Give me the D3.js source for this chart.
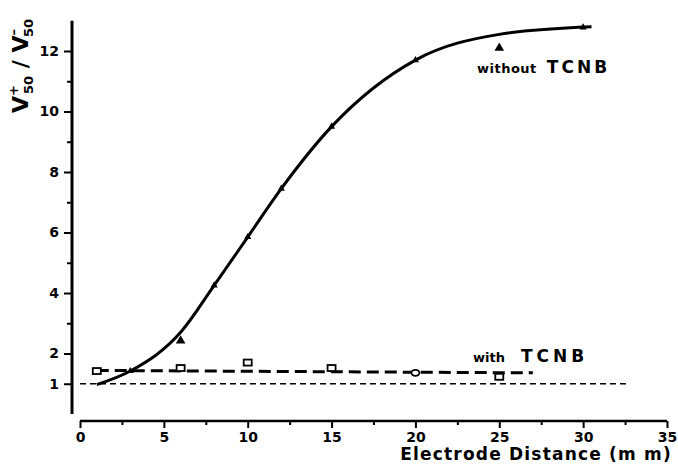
<!DOCTYPE html>
<html>
<head>
<meta charset="utf-8">
<script src="https://cdn.jsdelivr.net/npm/d3@7"></script>
<style>
  body { margin: 0; background: #fff; }
  svg text { font-family: "DejaVu Sans", "Liberation Sans", Arial, sans-serif; fill: #000; }
</style>
</head>
<body>
<div id="chart"></div>
<script>
// curve without TCNB (smooth line through the marked points)
var withoutX = [1, 3, 6, 8, 10, 12, 15, 20, 25, 30.5];
var withoutY = [0.97, 1.42, 2.7, 4.25, 5.85, 7.45, 9.5, 11.7, 12.55, 12.8];
// points on the curve that carry a small tick mark
var onCurveX = [3, 8, 10, 12, 15, 20, 30];
var onCurveY = [1.42, 4.25, 5.85, 7.45, 9.5, 11.7, 12.78];
// triangles that sit off the curve
var triX = [6, 25];
var triY = [2.42, 12.1];
// with TCNB measurements
var withX = [1, 6, 10, 15, 20, 25];
var withY = [1.42, 1.52, 1.7, 1.52, 1.36, 1.23];
var withShape = ['sq', 'sq', 'sq', 'sq', 'circ', 'sq'];
// dashed fit line with TCNB
var fitX = [1, 27];
var fitY = [1.44, 1.36];
// reference level y = 1
var refX = [0, 32.6];
var refY = [1, 1];

var xMajor = [0, 5, 10, 15, 20, 25, 30, 35];
var xMinor = [2.5, 7.5, 12.5, 17.5, 22.5, 27.5, 32.5];
var yMajor = [1, 2, 4, 6, 8, 10, 12];
var yMinor = [3, 5, 7, 9, 11];

var W = 678, H = 466;
var svg = d3.select('#chart').append('svg').attr('width', W).attr('height', H);

var x = d3.scaleLinear().domain([0, 35]).range([80, 667]);
var y = d3.scaleLinear().domain([0, 13]).range([414, 20.75]);

var yAxisX = 72, xAxisY = 421;

// y axis
var gy = svg.append('g').attr('transform', 'translate(' + yAxisX + ',0)');
gy.call(d3.axisLeft(y).tickValues(yMajor).tickSize(8).tickPadding(5).tickFormat(d3.format('d')));
gy.append('g').call(d3.axisLeft(y).tickValues(yMinor).tickSize(5).tickFormat(''));
gy.selectAll('.domain').remove();
gy.append('line').attr('x1', 0).attr('x2', 0).attr('y1', y(13)).attr('y2', y(0))
    .attr('stroke', '#000').attr('stroke-width', 3);
gy.selectAll('.tick line').attr('stroke', '#000').attr('stroke-width', 2);
gy.selectAll('.tick text').attr('font-size', 14).attr('font-weight', 'bold').attr('fill', '#000');

// x axis
var gx = svg.append('g').attr('transform', 'translate(0,' + xAxisY + ')');
gx.call(d3.axisBottom(x).tickValues(xMajor).tickSize(7).tickPadding(4).tickFormat(d3.format('d')));
gx.append('g').call(d3.axisBottom(x).tickValues(xMinor).tickSize(4).tickFormat(''));
gx.selectAll('.domain').remove();
gx.append('line').attr('x1', x(0)).attr('x2', x(35)).attr('y1', 0).attr('y2', 0)
    .attr('stroke', '#000').attr('stroke-width', 2.5);
gx.selectAll('.tick line').attr('stroke', '#000').attr('stroke-width', 2);
gx.selectAll('.tick text').attr('font-size', 14).attr('font-weight', 'bold').attr('fill', '#000');

// axis titles
svg.append('text').attr('x', 672).attr('y', 460).attr('text-anchor', 'end')
    .attr('font-size', 17).attr('font-weight', 'bold').attr('letter-spacing', 1.2)
    .text('Electrode Distance (m m)');

var yt = svg.append('text').attr('transform', 'translate(28,66) rotate(-90)')
    .attr('text-anchor', 'middle').attr('font-size', 22).attr('font-weight', 'bold');
yt.append('tspan').text('V');
yt.append('tspan').attr('font-size', 13).attr('dy', -10).text('+');
yt.append('tspan').attr('font-size', 13).attr('dx', -9).attr('dy', 15).text('50');
yt.append('tspan').attr('dy', -5).text(' / V');
yt.append('tspan').attr('font-size', 13).attr('dy', -10).text('\u2013');
yt.append('tspan').attr('font-size', 13).attr('dx', -8).attr('dy', 15).text('50');

// reference line at 1
var line = d3.line().x(function (d) { return x(d[0]); }).y(function (d) { return y(d[1]); });
svg.append('path').datum(d3.zip(refX, refY)).attr('d', line)
    .attr('fill', 'none').attr('stroke', '#000').attr('stroke-width', 1.3).attr('stroke-dasharray', '6,4');

// with TCNB dashed fit
svg.append('path').datum(d3.zip(fitX, fitY)).attr('d', line)
    .attr('fill', 'none').attr('stroke', '#000').attr('stroke-width', 3).attr('stroke-dasharray', '12,6');

// without TCNB curve
var curve = d3.line().curve(d3.curveMonotoneX)
    .x(function (d) { return x(d[0]); }).y(function (d) { return y(d[1]); });
svg.append('path').datum(d3.zip(withoutX, withoutY)).attr('d', curve)
    .attr('fill', 'none').attr('stroke', '#000').attr('stroke-width', 3);

// markers
var tri = d3.symbol().type(d3.symbolTriangle);
svg.selectAll('.tri').data(d3.zip(triX, triY)).enter().append('path')
    .attr('transform', function (d) { return 'translate(' + x(d[0]) + ',' + y(d[1]) + ')'; })
    .attr('d', tri.size(40)).attr('fill', '#000');
svg.selectAll('.onc').data(d3.zip(onCurveX, onCurveY)).enter().append('path')
    .attr('transform', function (d) { return 'translate(' + x(d[0]) + ',' + y(d[1]) + ')'; })
    .attr('d', tri.size(22)).attr('fill', '#000');

svg.selectAll('.wm').data(d3.zip(withX, withY, withShape)).enter().each(function (d) {
    var px = x(d[0]), py = y(d[1]);
    if (d[2] === 'circ') {
        svg.append('ellipse').attr('cx', px).attr('cy', py).attr('rx', 4).attr('ry', 3)
            .attr('fill', '#fff').attr('stroke', '#000').attr('stroke-width', 1.8);
    } else {
        svg.append('rect').attr('x', px - 4).attr('y', py - 3).attr('width', 8).attr('height', 6)
            .attr('fill', '#fff').attr('stroke', '#000').attr('stroke-width', 1.8);
    }
});

// labels
var l1 = svg.append('text').attr('x', 477).attr('y', 73).attr('font-weight', 'bold');
l1.append('tspan').attr('font-size', 13).attr('letter-spacing', 0.5).text('without');
l1.append('tspan').attr('font-size', 17).attr('dx', 10).attr('letter-spacing', 3).text('TCNB');

var l2 = svg.append('text').attr('x', 473).attr('y', 362).attr('font-weight', 'bold');
l2.append('tspan').attr('font-size', 13).text('with');
l2.append('tspan').attr('font-size', 17).attr('dx', 16).attr('letter-spacing', 4).text('TCNB');
</script>
</body>
</html>
